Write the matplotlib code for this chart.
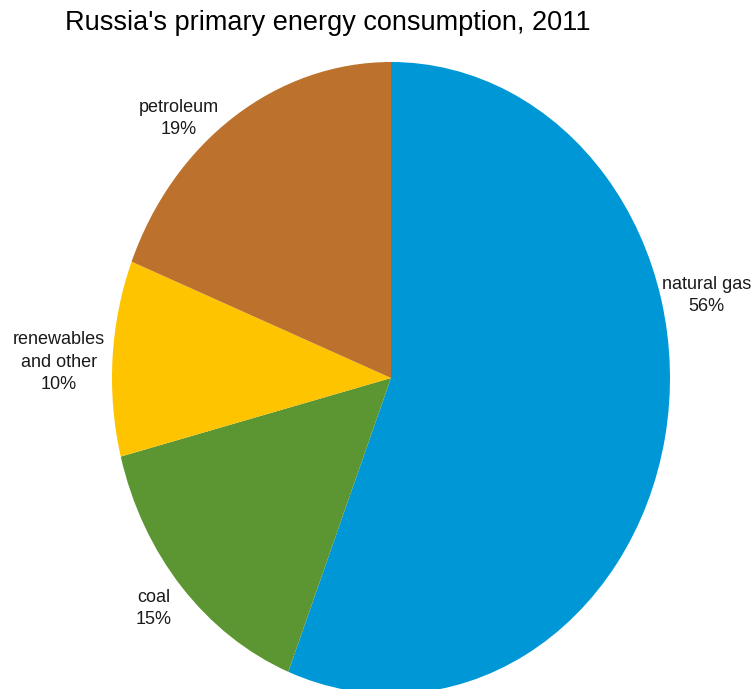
import matplotlib
matplotlib.use("Agg")
import matplotlib.pyplot as plt

plt.rcParams["font.family"] = ["Liberation Sans", "DejaVu Sans"]

# primary energy consumption shares, 2011 (%)
sources = ["natural gas", "coal", "renewables\nand other", "petroleum"]
shares = [56, 15, 10, 19]
colors = ["#0097d7", "#5c9632", "#ffc400", "#bc722c"]

# label anchor points in pie coordinates (x, y), radius = 1
label_pos = [(1.13, 0.26), (-0.85, -0.73), (-1.19, 0.05), (-0.76, 0.82)]

fig = plt.figure(figsize=(7.56, 6.89), dpi=100)
ax = fig.add_axes([112 / 756, -5 / 689, 558 / 756, 632 / 689])

ax.pie(
    shares,
    colors=colors,
    startangle=90,
    counterclock=False,
    wedgeprops={"linewidth": 0},
)
# stretched vertically, as drawn in the original workbook chart
ax.set_aspect("auto")
ax.set_xlim(-1, 1)
ax.set_ylim(-1, 1)

for name, val, (x, y) in zip(sources, shares, label_pos):
    ax.text(x, y, f"{name}\n{val}%", ha="center", va="center",
            fontsize=13, linespacing=1.4, color="#1a1a1a", clip_on=False)

fig.text(328 / 756, 1 - 23 / 689, "Russia's primary energy consumption, 2011",
         ha="center", va="center", fontsize=19.5, color="black")

fig.savefig("out.png", dpi=100)
